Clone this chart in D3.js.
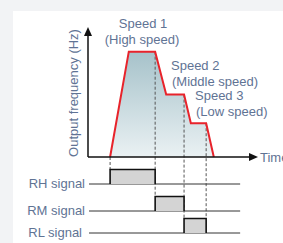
<!DOCTYPE html>
<html>
<head>
<meta charset="utf-8">
<script src="https://cdn.jsdelivr.net/npm/d3@7"></script>
<style>
  body { margin: 0; background: #f2f3f5; }
  svg { display: block; font-family: "Liberation Sans", Arial, sans-serif; }
</style>
</head>
<body>
<svg width="283" height="243"></svg>
<script>
// frequency profile: time vs output frequency (arbitrary units)
const profileTime = [13, 24, 39.5, 46, 56.5, 60.5, 69.5, 74];
const profileFreq = [0, 81, 81, 48, 48, 26, 26, 0];

// switching signals
const signalNames = ["RH signal", "RM signal", "RL signal"];
const signalOn = [13, 39.5, 56.5];
const signalOff = [39.5, 56.5, 69.5];

// speed annotations
const speedTitles = ["Speed 1", "Speed 2", "Speed 3"];
const speedSubs = ["(High speed)", "(Middle speed)", "(Low speed)"];

const svg = d3.select("svg");
const textColor = "#5f7394";

svg.append("rect").attr("x", 13).attr("y", 11).attr("width", 270).attr("height", 232).attr("fill", "#fff");

const x = d3.scaleLinear().domain([0, 100]).range([88, 258]);
const y = d3.scaleLinear().domain([0, 100]).range([157, 27]);
const rowY = [184, 211, 233];
const pulseH = 14.5;

const defs = svg.append("defs");
const grad = defs.append("linearGradient").attr("id", "fillGrad")
  .attr("x1", 0).attr("y1", 0).attr("x2", 0).attr("y2", 1);
grad.append("stop").attr("offset", "0%").attr("stop-color", "#a6c2ca");
grad.append("stop").attr("offset", "100%").attr("stop-color", "#eaf1f3");

const profile = profileTime.map((t, i) => [t, profileFreq[i]]);

svg.append("path")
  .datum(profile)
  .attr("d", d3.area().x(d => x(d[0])).y0(y(0)).y1(d => y(d[1])))
  .attr("fill", "url(#fillGrad)");

// dashed guide lines
const guides = [
  { t: 13, top: y(0), bottom: rowY[0] - pulseH },
  { t: 39.5, top: y(81), bottom: rowY[1] - pulseH },
  { t: 56.5, top: y(48), bottom: rowY[2] - pulseH },
  { t: 69.5, top: y(26), bottom: rowY[2] - pulseH }
];
svg.selectAll(".guide").data(guides).enter().append("line")
  .attr("x1", d => x(d.t)).attr("x2", d => x(d.t))
  .attr("y1", d => d.top).attr("y2", d => d.bottom)
  .attr("stroke", "#555").attr("stroke-width", 1).attr("stroke-dasharray", "3,2");

svg.append("path")
  .datum(profile)
  .attr("d", d3.line().x(d => x(d[0])).y(d => y(d[1])))
  .attr("fill", "none").attr("stroke", "#e8232b").attr("stroke-width", 2)
  .attr("stroke-linejoin", "miter");

// axes with arrows
svg.append("line").attr("x1", x(0)).attr("x2", x(0)).attr("y1", y(0)).attr("y2", y(96))
  .attr("stroke", "#111").attr("stroke-width", 1.5);
svg.append("path").attr("d", `M${x(0)},${y(100)} l-4,9 l8,0 z`).attr("fill", "#111");
svg.append("line").attr("x1", x(0)).attr("x2", x(97)).attr("y1", y(0)).attr("y2", y(0))
  .attr("stroke", "#111").attr("stroke-width", 1.5);
svg.append("path").attr("d", `M${x(100)},${y(0)} l-9,-4 l0,8 z`).attr("fill", "#111");

svg.append("text").attr("x", 260).attr("y", y(0) + 4.5).attr("fill", textColor)
  .attr("font-size", 13).text("Time");

svg.append("text").attr("transform", `translate(77.5,93) rotate(-90)`)
  .attr("text-anchor", "middle").attr("fill", textColor).attr("font-size", 13)
  .text("Output frequency (Hz)");

// speed labels
const labelPos = [
  { x: 143, y: 28, anchor: "middle" },
  { x: 171, y: 70, anchor: "start" },
  { x: 195, y: 100, anchor: "start" }
];
speedTitles.forEach((s, i) => {
  const p = labelPos[i];
  const tx = i === 0 ? p.x : p.x;
  svg.append("text").attr("x", tx).attr("y", p.y).attr("text-anchor", p.anchor)
    .attr("fill", textColor).attr("font-size", 13).text(s);
  svg.append("text").attr("x", i === 0 ? p.x - 1 : p.x + 1).attr("y", p.y + 16).attr("text-anchor", p.anchor)
    .attr("fill", textColor).attr("font-size", 13).text(speedSubs[i]);
});

// signal rows
signalNames.forEach((name, i) => {
  const by = rowY[i];
  svg.append("text").attr("x", i === 2 ? 82 : 85).attr("y", by + 4).attr("text-anchor", "end")
    .attr("fill", textColor).attr("font-size", 13).text(name);
  svg.append("line").attr("x1", x(0.6)).attr("x2", x(89.5)).attr("y1", by).attr("y2", by)
    .attr("stroke", "#333").attr("stroke-width", 1);
  svg.append("rect").attr("x", x(signalOn[i])).attr("y", by - pulseH)
    .attr("width", x(signalOff[i]) - x(signalOn[i])).attr("height", pulseH)
    .attr("fill", "#d4d4d4");
  svg.append("path")
    .attr("d", `M${x(signalOn[i])},${by} V${by - pulseH} H${x(signalOff[i])} V${by}`)
    .attr("fill", "none").attr("stroke", "#111").attr("stroke-width", 1.6);
});
</script>
</body>
</html>
